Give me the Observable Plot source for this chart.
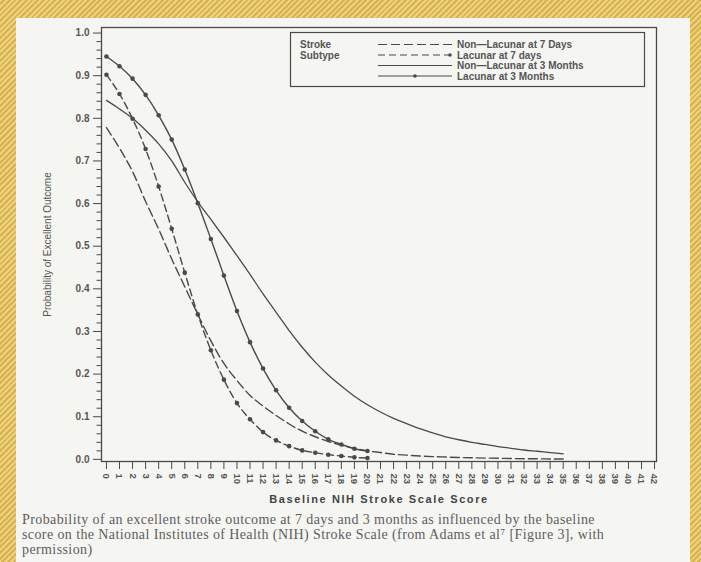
<!DOCTYPE html>
<html>
<head>
<meta charset="utf-8">
<script src="https://cdn.jsdelivr.net/npm/d3@7"></script>
<script src="https://cdn.jsdelivr.net/npm/@observablehq/plot@0.6"></script>
<style>
  html, body { margin: 0; padding: 0; }
  body {
    width: 701px; height: 562px; overflow: hidden; position: relative;
    background: repeating-linear-gradient(135deg, #ecd27e 0px, #ecd27e 2px, #d8b24f 2px, #d8b24f 4px);
  }
  #paper { position: absolute; left: 16px; top: 18px; width: 674px; height: 544px; background: #f5f5f2; }
  #chart { position: absolute; left: 0; top: 0; }
  #caption {
    position: absolute; left: 22px; top: 512px; width: 668px;
    font-family: "Liberation Serif", "DejaVu Serif", serif; font-size: 14px; line-height: 15px;
    letter-spacing: 0.4px; color: #5e5e5e; white-space: nowrap;
  }
</style>
</head>
<body>
<div id="paper"></div>
<div id="chart"></div>
<div id="caption">Probability of an excellent stroke outcome at 7 days and 3 months as influenced by the baseline<br>score on the National Institutes of Health (NIH) Stroke Scale (from Adams et al&#8311; [Figure 3], with<br>permission)</div>
<script>
// ---- data ----
const scoreShort = [0,1,2,3,4,5,6,7,8,9,10,11,12,13,14,15,16,17,18,19,20];
const scoreLong  = [0,1,2,3,4,5,6,7,8,9,10,11,12,13,14,15,16,17,18,19,20,21,22,23,24,25,26,27,28,29,30,31,32,33,34,35];

const nonLacunar7 = [0.778,0.730,0.675,0.605,0.540,0.470,0.405,0.340,0.278,0.225,0.185,0.150,0.125,0.103,0.083,0.066,0.053,0.042,0.033,0.026,0.020,0.016,0.012,0.010,0.008,0.0065,0.0055,0.0045,0.0037,0.003,0.0025,0.002,0.0016,0.0013,0.001,0.0008];
const lacunar7    = [0.902,0.857,0.799,0.728,0.640,0.541,0.438,0.340,0.256,0.187,0.132,0.094,0.064,0.0445,0.031,0.021,0.0157,0.011,0.0078,0.0047,0.003];
const nonLacunar3 = [0.842,0.822,0.800,0.772,0.740,0.700,0.650,0.604,0.563,0.521,0.478,0.434,0.388,0.345,0.302,0.263,0.228,0.198,0.172,0.148,0.128,0.111,0.096,0.084,0.072,0.062,0.053,0.046,0.040,0.035,0.030,0.026,0.022,0.019,0.016,0.013];
const lacunar3    = [0.945,0.922,0.893,0.855,0.807,0.750,0.680,0.601,0.517,0.431,0.348,0.275,0.213,0.162,0.121,0.090,0.066,0.047,0.035,0.025,0.0195];

const seriesNames = ["Non\u2014Lacunar at 7 Days", "Lacunar at 7 days", "Non\u2014Lacunar at 3 Months", "Lacunar at 3 Months"];
const legendHeading = ["Stroke", "Subtype"];
const xTicks = d3.range(0, 43);
const yMajor = [0,0.1,0.2,0.3,0.4,0.5,0.6,0.7,0.8,0.9,1.0];
const yMinor = d3.range(0, 51).map(i => i / 50).filter((d, i) => i % 5 !== 0);
const xTitle = "Baseline NIH Stroke Scale Score";
const yTitle = "Probability of Excellent Outcome";

const toRows = (xs, ys) => ys.map((p, i) => ({score: xs[i], p}));
const nl7 = toRows(scoreLong, nonLacunar7);
const l7  = toRows(scoreShort, lacunar7);
const nl3 = toRows(scoreLong, nonLacunar3);
const l3  = toRows(scoreShort, lacunar3);

const ink = "#4a4a4a";
const dashes = ["9,4", "7,4", null, null];

const chart = Plot.plot({
  width: 701,
  height: 510,
  marginLeft: 101,
  marginRight: 45,
  marginTop: 27,
  marginBottom: 49,
  style: {background: "transparent", color: "#555", fontFamily: "'Liberation Sans', Arial, sans-serif"},
  x: {domain: [-0.38, 42.15]},
  y: {domain: [-0.005, 1.013]},
  marks: [
    Plot.frame({stroke: ink, strokeWidth: 1.3}),
    Plot.axisY({ticks: yMinor, tickSize: 4.5, tickFormat: () => "", label: null, stroke: ink}),
    Plot.axisY({ticks: yMajor, tickSize: 8, tickPadding: 4, tickFormat: d3.format(".1f"), label: null, fontSize: 10, fontWeight: "bold", stroke: ink}),
    Plot.axisX({ticks: xTicks, tickSize: 8, tickPadding: 4, tickRotate: 90, tickFormat: d => String(d), label: null, fontSize: 9.5, fontWeight: "bold", stroke: ink}),
    Plot.line(nl7, {x: "score", y: "p", stroke: ink, strokeWidth: 1.4, strokeDasharray: dashes[0], curve: "monotone-x"}),
    Plot.line(l7,  {x: "score", y: "p", stroke: ink, strokeWidth: 1.4, strokeDasharray: dashes[1], curve: "monotone-x"}),
    Plot.line(nl3, {x: "score", y: "p", stroke: ink, strokeWidth: 1.3, curve: "monotone-x"}),
    Plot.line(l3,  {x: "score", y: "p", stroke: ink, strokeWidth: 1.4, curve: "monotone-x"}),
    Plot.dot(l7, {x: "score", y: "p", r: 2.3, fill: ink}),
    Plot.dot(l3, {x: "score", y: "p", r: 2.3, fill: ink}),
    Plot.text([xTitle], {frameAnchor: "bottom", dy: 41, fontSize: 11, fontWeight: "bold", fill: "#444", textAnchor: "middle"}),
    Plot.text([yTitle], {frameAnchor: "left", dx: -54, rotate: -90, fontSize: 10, fill: "#555", textAnchor: "middle"})
  ]
});

document.getElementById("chart").appendChild(chart);

// letter spacing on x title
d3.select(chart).selectAll("text").filter(function() { return this.textContent === xTitle; })
  .style("letter-spacing", "1.6px");

// ---- legend box (top right inside the frame) ----
const svg = d3.select(chart);
const lg = svg.append("g").attr("font-family", "'Liberation Sans', Arial, sans-serif").attr("font-size", 10)
  .attr("font-weight", "bold").attr("fill", "#555").attr("text-anchor", "start");
lg.append("rect").attr("x", 290.5).attr("y", 32.5).attr("width", 354).attr("height", 54)
  .attr("fill", "none").attr("stroke", ink).attr("stroke-width", 1.2);
legendHeading.forEach((t, i) => {
  lg.append("text").attr("x", 300).attr("y", 48 + i * 11).text(t);
});
seriesNames.forEach((name, i) => {
  const yy = 44.5 + i * 10.5;
  lg.append("line").attr("x1", 378).attr("x2", 452).attr("y1", yy).attr("y2", yy)
    .attr("stroke", ink).attr("stroke-width", 1.2).attr("stroke-dasharray", dashes[i]);
  if (i === 1 || i === 3) {
    lg.append("circle").attr("cx", i === 1 ? 450 : 415).attr("cy", yy).attr("r", 1.8).attr("fill", ink);
  }
  lg.append("text").attr("x", 457).attr("y", yy + 3.5).text(name);
});
</script>
</body>
</html>
